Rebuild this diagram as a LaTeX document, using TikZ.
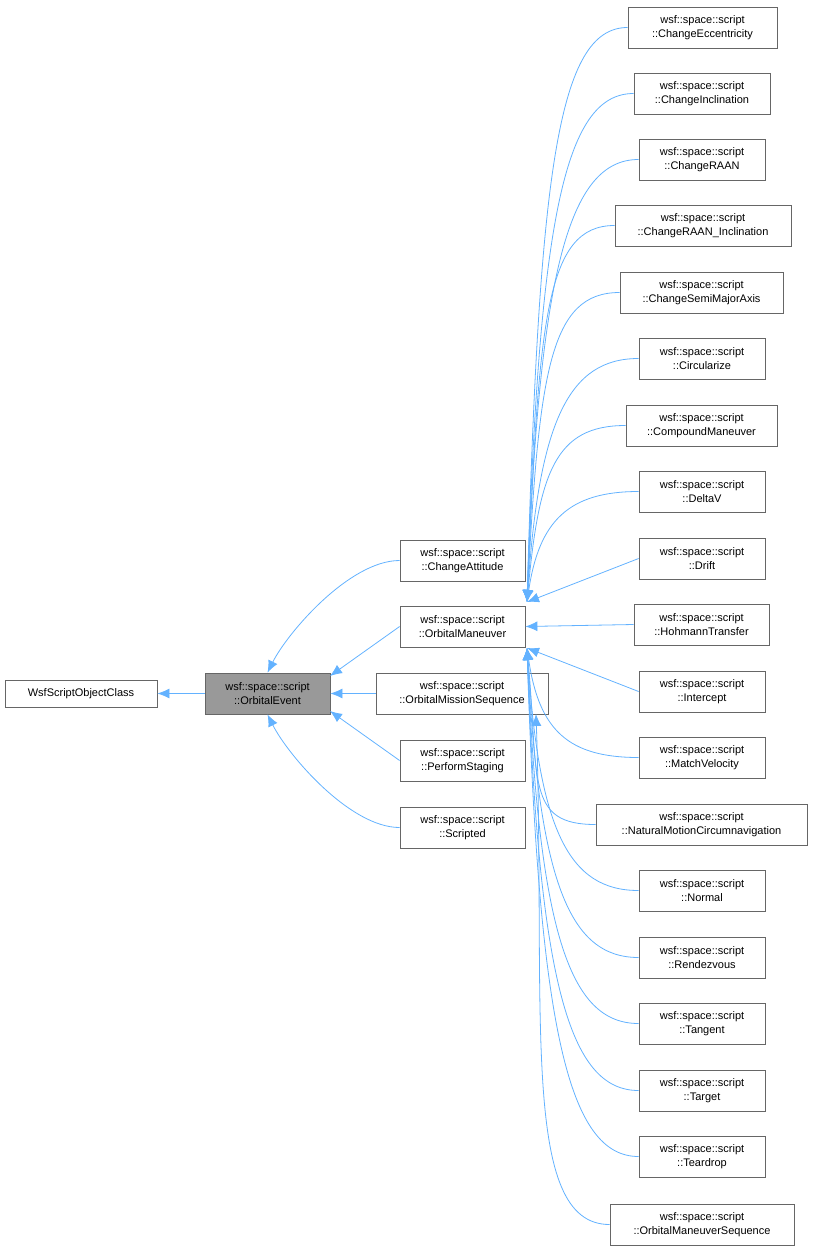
\documentclass[tikz,border=0pt]{standalone}
\usepackage{fontspec}
\setmainfont{Liberation Sans}
\usetikzlibrary{arrows.meta,calc}
\definecolor{edgec}{RGB}{99,178,255}
\definecolor{boxc}{RGB}{102,102,102}
\tikzset{
 box/.style={draw=boxc,line width=0.8pt,fill=white,inner sep=0pt,align=center,font=\fontsize{11}{14}\selectfont},
 arr/.style={draw=edgec,line width=0.8pt,-{Latex[length=12pt,width=10pt]}}
}
\newcommand\nd[6]{\node[box,minimum width={(#4-#2)*1pt},minimum height={(#5-#3)*1pt}] (#1) at ({(#2+#4)/2},{(#3+#5)/2}) {#6};}
\begin{document}
\begin{tikzpicture}[x=1pt,y=-1pt]
\useasboundingbox (0,0) rectangle (813,1253);
\nd{wsf}{5}{680}{157}{707}{WsfScriptObjectClass}
\node[box,fill={rgb,255:red,153;green,153;blue,153},minimum width=125pt,minimum height=41pt] (oe) at (267.5,693.5) {wsf::space::script\\::OrbitalEvent};
\nd{ca}{400}{540}{525}{581}{wsf::space::script\\::ChangeAttitude}
\nd{om}{400}{606}{525}{647}{wsf::space::script\\::OrbitalManeuver}
\nd{oms}{376}{673}{548}{714}{wsf::space::script\\::OrbitalMissionSequence}
\nd{ps}{400}{740}{525}{781}{wsf::space::script\\::PerformStaging}
\nd{sc}{400}{807}{525}{848}{wsf::space::script\\::Scripted}
\nd{r1}{628}{7}{777}{48}{wsf::space::script\\::ChangeEccentricity}
\nd{r2}{634}{73}{770}{114}{wsf::space::script\\::ChangeInclination}
\nd{r3}{639}{139}{765}{180}{wsf::space::script\\::ChangeRAAN}
\nd{r4}{615}{205}{791}{246}{wsf::space::script\\::ChangeRAAN\_Inclination}
\nd{r5}{620}{272}{783}{313}{wsf::space::script\\::ChangeSemiMajorAxis}
\nd{r6}{639}{338}{765}{379}{wsf::space::script\\::Circularize}
\nd{r7}{626}{405}{777}{446}{wsf::space::script\\::CompoundManeuver}
\nd{r8}{639}{471}{765}{512}{wsf::space::script\\::DeltaV}
\nd{r9}{639}{538}{765}{579}{wsf::space::script\\::Drift}
\nd{r10}{634}{604}{769}{645}{wsf::space::script\\::HohmannTransfer}
\nd{r11}{639}{671}{765}{712}{wsf::space::script\\::Intercept}
\nd{r12}{639}{737}{765}{778}{wsf::space::script\\::MatchVelocity}
\nd{r13}{596}{804}{807}{845}{wsf::space::script\\::NaturalMotionCircumnavigation}
\nd{r14}{639}{870}{765}{911}{wsf::space::script\\::Normal}
\nd{r15}{639}{937}{765}{978}{wsf::space::script\\::Rendezvous}
\nd{r16}{639}{1003}{765}{1044}{wsf::space::script\\::Tangent}
\nd{r17}{639}{1070}{765}{1111}{wsf::space::script\\::Target}
\nd{r18}{639}{1136}{765}{1177}{wsf::space::script\\::Teardrop}
\nd{r19}{610}{1204}{794}{1245}{wsf::space::script\\::OrbitalManeuverSequence}
\coordinate (omA) at (527,602);
\coordinate (omB) at (527,648);
\coordinate (oeNE) at (330,676);
\coordinate (oeSE) at (330,711);
\coordinate (omsS) at (536,714);
\draw[arr] (oe.west) -- (wsf.east);
\draw[arr] (ca.west) .. controls +(-50,0) and +(20,-40) .. (oe.north);
\draw[arr] (om.west) -- (oeNE);
\draw[arr] (oms.west) -- (oe.east);
\draw[arr] (ps.west) -- (oeSE);
\draw[arr] (sc.west) .. controls +(-50,0) and +(20,40) .. (oe.south);
\foreach \n/\y in {r1/28,r2/94,r3/160,r4/226,r5/293,r6/359,r7/426,r8/492}{
  \pgfmathsetmacro\dy{(600-\y)*0.75}
  \draw[arr] (\n.west) .. controls +(-70,0) and +(12,-\dy) .. (omA);
}
\draw[arr] (r9.west) -- (omA);
\draw[arr] (r10.west) -- (om.east);
\draw[arr] (r11.west) -- (omB);
\foreach \n/\y in {r12/758,r13/825,r14/891,r15/958,r16/1024,r17/1091,r18/1157}{
  \pgfmathsetmacro\dy{(\y-648)*0.75}
  \draw[arr] (\n.west) .. controls +(-70,0) and +(12,\dy) .. (omB);
}
\draw[arr] (r19.west) .. controls +(-90,0) and +(10,300) .. (omsS);
\end{tikzpicture}
\end{document}
